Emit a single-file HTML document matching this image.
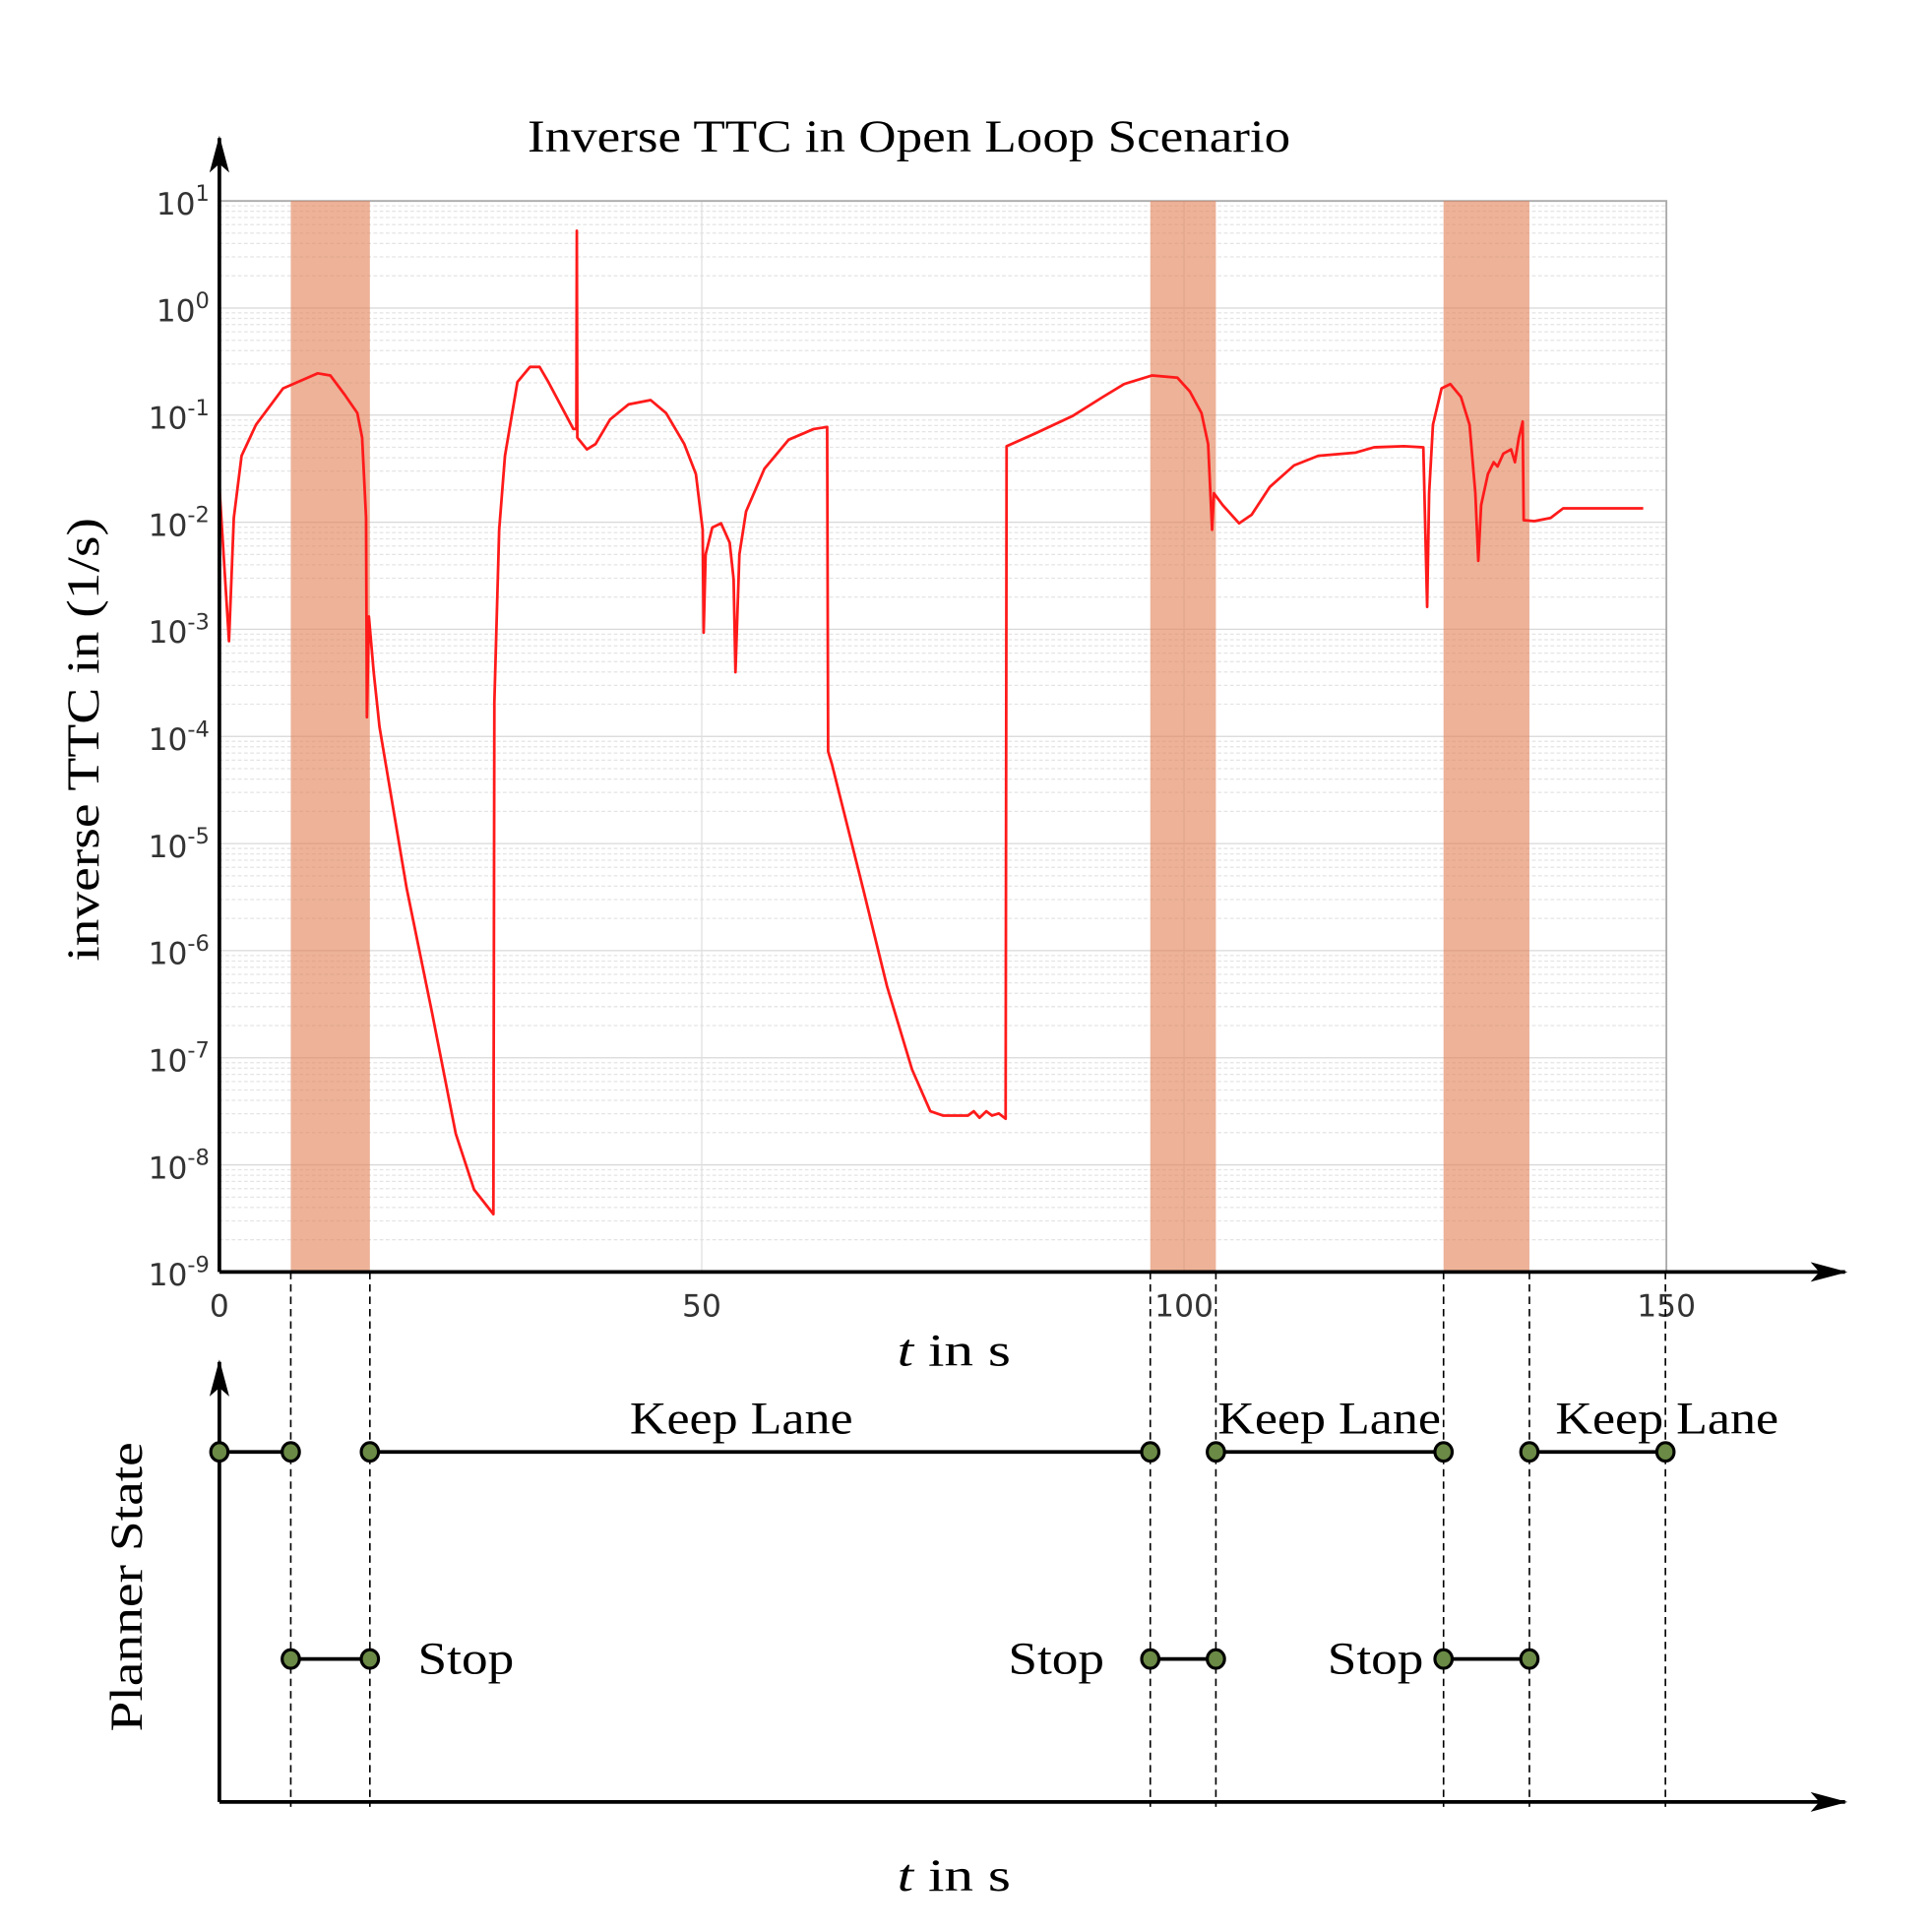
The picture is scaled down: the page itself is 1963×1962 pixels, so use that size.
<!DOCTYPE html>
<html><head><meta charset="utf-8"><style>
html,body{margin:0;padding:0;background:#fff}
svg{display:block}
.serif{font-family:"Liberation Serif",serif;fill:#000}
.sans{font-family:"DejaVu Sans","Liberation Sans",sans-serif;fill:#333}
</style></head><body>
<svg id="chart" width="1963" height="1962" viewBox="0 0 1567.5 1566.7" preserveAspectRatio="none" xmlns="http://www.w3.org/2000/svg">
<defs>
<marker id="arr" viewBox="0 0 30 16" refX="28" refY="8" markerWidth="30" markerHeight="16" markerUnits="userSpaceOnUse" orient="auto"><path d="M0,0 L30,8 L0,16 L7,8 z" fill="#000"/></marker>
</defs>
<g id="grid"></g>
<g id="bands"></g>
<g id="curve"></g>
<g id="axes"></g>
<g id="lower"></g>
<text class="serif" x="428" y="123" font-size="37" textLength="619" lengthAdjust="spacingAndGlyphs">Inverse TTC in Open Loop Scenario</text>
<text class="serif" transform="translate(80,780) rotate(-90)" font-size="37" textLength="360" lengthAdjust="spacingAndGlyphs">inverse TTC in (1/s)</text>
<text class="serif" x="728" y="1108" font-size="37" textLength="92" lengthAdjust="spacingAndGlyphs"><tspan font-style="italic">t</tspan>  in s</text>
<text class="serif" transform="translate(115,1405) rotate(-90)" font-size="37" textLength="235" lengthAdjust="spacingAndGlyphs">Planner State</text>
<text class="serif" x="728" y="1534" font-size="37" textLength="92" lengthAdjust="spacingAndGlyphs"><tspan font-style="italic">t</tspan>  in s</text>
</svg>
<script>
const tData=[0,1.0,1.5,2.3,3.8,6.6,10.2,11.5,13.0,14.3,14.8,15.2,15.3,15.5,16.0,16.6,19.4,22.0,24.5,26.4,28.4,28.5,29.0,29.6,30.9,32.2,33.2,34.1,36.7,37.0,37.05,37.1,38.1,39.0,40.5,42.4,44.7,46.3,48.2,49.4,50.1,50.2,50.4,51.1,52.0,52.9,53.3,53.5,53.9,54.6,56.5,59.0,61.6,63.0,63.1,63.5,66.7,69.2,71.8,73.7,75.0,77.6,78.2,78.8,79.5,80.1,80.8,81.5,81.6,84.6,88.4,91.6,93.8,96.7,99.3,100.6,101.8,102.5,102.9,103.1,104.0,105.7,107.0,108.9,111.4,113.9,117.8,119.7,122.8,124.8,125.2,125.4,125.8,126.7,127.6,128.7,129.6,130.2,130.5,130.8,131.5,132.1,132.5,133.1,133.9,134.3,134.7,135.1,135.2,136.3,138.0,139.3,147.6];
const logData=[-1.67,-3.11,-1.96,-1.38,-1.09,-0.75,-0.61,-0.63,-0.81,-0.98,-1.21,-1.96,-3.82,-2.88,-3.40,-3.91,-5.41,-6.56,-7.71,-8.23,-8.46,-3.68,-2.07,-1.38,-0.69,-0.55,-0.55,-0.69,-1.13,-1.13,0.72,-1.21,-1.32,-1.27,-1.04,-0.90,-0.86,-0.98,-1.27,-1.55,-2.07,-3.03,-2.30,-2.05,-2.01,-2.19,-2.53,-3.40,-2.30,-1.90,-1.50,-1.23,-1.13,-1.11,-4.14,-4.26,-5.41,-6.33,-7.11,-7.50,-7.54,-7.54,-7.50,-7.56,-7.50,-7.54,-7.52,-7.57,-1.29,-1.17,-1.01,-0.83,-0.71,-0.63,-0.65,-0.78,-0.98,-1.27,-2.07,-1.73,-1.84,-2.01,-1.93,-1.67,-1.47,-1.38,-1.35,-1.30,-1.29,-1.30,-2.79,-1.73,-1.09,-0.75,-0.71,-0.83,-1.09,-1.73,-2.36,-1.84,-1.55,-1.44,-1.48,-1.36,-1.32,-1.44,-1.21,-1.06,-1.98,-1.99,-1.96,-1.87,-1.87];
const xTicks=[0,50,100,150];
const yDecades=[1,0,-1,-2,-3,-4,-5,-6,-7,-8,-9];
const stopStarts=[7.4,96.5,126.9];
const stopEnds=[15.6,103.3,135.8];
const keepStarts=[0,15.6,103.3,135.8];
const keepEnds=[7.4,96.5,126.9,149.9];
const NS="http://www.w3.org/2000/svg";
const X0=178,X1=1352,Y0=163,Y1=1032;
const xs=t=>X0+(t/150)*(X1-X0);
const ys=l=>Y0+(1-l)/10*(Y1-Y0);
const KY=1178,SY=1346,LB=1462;
function mk(tag,attrs,parent){const e=document.createElementNS(NS,tag);for(const k in attrs)e.setAttribute(k,attrs[k]);document.getElementById(parent).appendChild(e);return e;}
for(let d=-9;d<=0;d++){for(let m=2;m<=9;m++){const y=ys(d+Math.log10(m));const g=mk('line',{x1:X0,x2:X1,y1:y,y2:y,stroke:'#e4e4e4','stroke-width':1,'stroke-dasharray':'3,2'},'grid');

}}
yDecades.forEach(d=>{const y=ys(d);const g=mk('line',{x1:X0,x2:X1,y1:y,y2:y,stroke:'#d8d8d8','stroke-width':1},'grid');


const tx=mk('text',{x:X0-8,y:y+11,'font-size':25,'text-anchor':'end',class:'sans'},'axes');


tx.innerHTML='10<tspan dy="-11" font-size="18">'+d+'</tspan>';});
xTicks.forEach(t=>{const x=xs(t);if(t>0&&t<150){const g=mk('line',{x1:x,x2:x,y1:Y0,y2:Y1,stroke:'#e0e0e0','stroke-width':1},'grid');

}
const tx=mk('text',{x:x,y:1068,'font-size':25,'text-anchor':'middle',class:'sans'},'axes');


tx.textContent=t;});
const box=mk('path',{d:`M${X0},${Y0} H${X1} V${Y1}`,fill:'none',stroke:'#aaa','stroke-width':1.5},'grid');


stopStarts.forEach((s,i)=>{const r=mk('rect',{x:xs(s),y:Y0,width:xs(stopEnds[i])-xs(s),height:Y1-Y0,fill:'rgb(226,130,88)','fill-opacity':0.62},'bands');

});
const pts=tData.map((t,i)=>xs(t).toFixed(1)+','+ys(logData[i]).toFixed(1)).join(' ');
const pl=mk('polyline',{points:pts,fill:'none',stroke:'#ff1a1a','stroke-width':2.2,'stroke-linejoin':'round'},'curve');


const ya=mk('line',{x1:X0,x2:X0,y1:Y1,y2:112,stroke:'#000','stroke-width':3,'marker-end':'url(#arr)'},'axes');


const xa=mk('line',{x1:X0,x2:1497,y1:Y1,y2:Y1,stroke:'#000','stroke-width':3,'marker-end':'url(#arr)'},'axes');


const ly=mk('line',{x1:X0,x2:X0,y1:LB,y2:1105,stroke:'#000','stroke-width':3,'marker-end':'url(#arr)'},'lower');


const lx=mk('line',{x1:X0,x2:1497,y1:LB,y2:LB,stroke:'#000','stroke-width':3,'marker-end':'url(#arr)'},'lower');


const tr=[...stopStarts,...stopEnds,149.9];
tr.forEach(t=>{const d=mk('line',{x1:xs(t),x2:xs(t),y1:Y1,y2:LB+4,stroke:'#000','stroke-width':1.3,'stroke-dasharray':'6,4'},'lower');

});
function seg(a,b,y,name){const l=mk('line',{x1:xs(a),x2:xs(b),y1:y,y2:y,stroke:'#000','stroke-width':3},'lower');


[a,b].forEach(t=>{const c=mk('ellipse',{cx:xs(t),cy:y,rx:7,ry:7.5,fill:'#6a8a45',stroke:'#000','stroke-width':2.5},'lower');

});}
keepStarts.forEach((s,i)=>seg(s,keepEnds[i],KY,'keep-lane-segment'));
stopStarts.forEach((s,i)=>seg(s,stopEnds[i],SY,'stop-segment'));
const labels=[['Keep Lane',511,1163,181],['Keep Lane',988,1163,181],['Keep Lane',1262,1163,181],['Stop',339,1358,78],['Stop',818,1358,78],['Stop',1077,1358,78]];
labels.forEach(l=>{const t=mk('text',{x:l[1],y:l[2],'font-size':37,textLength:l[3],lengthAdjust:'spacingAndGlyphs',class:'serif'},'lower');


t.textContent=l[0];});
</script>
</body></html>
